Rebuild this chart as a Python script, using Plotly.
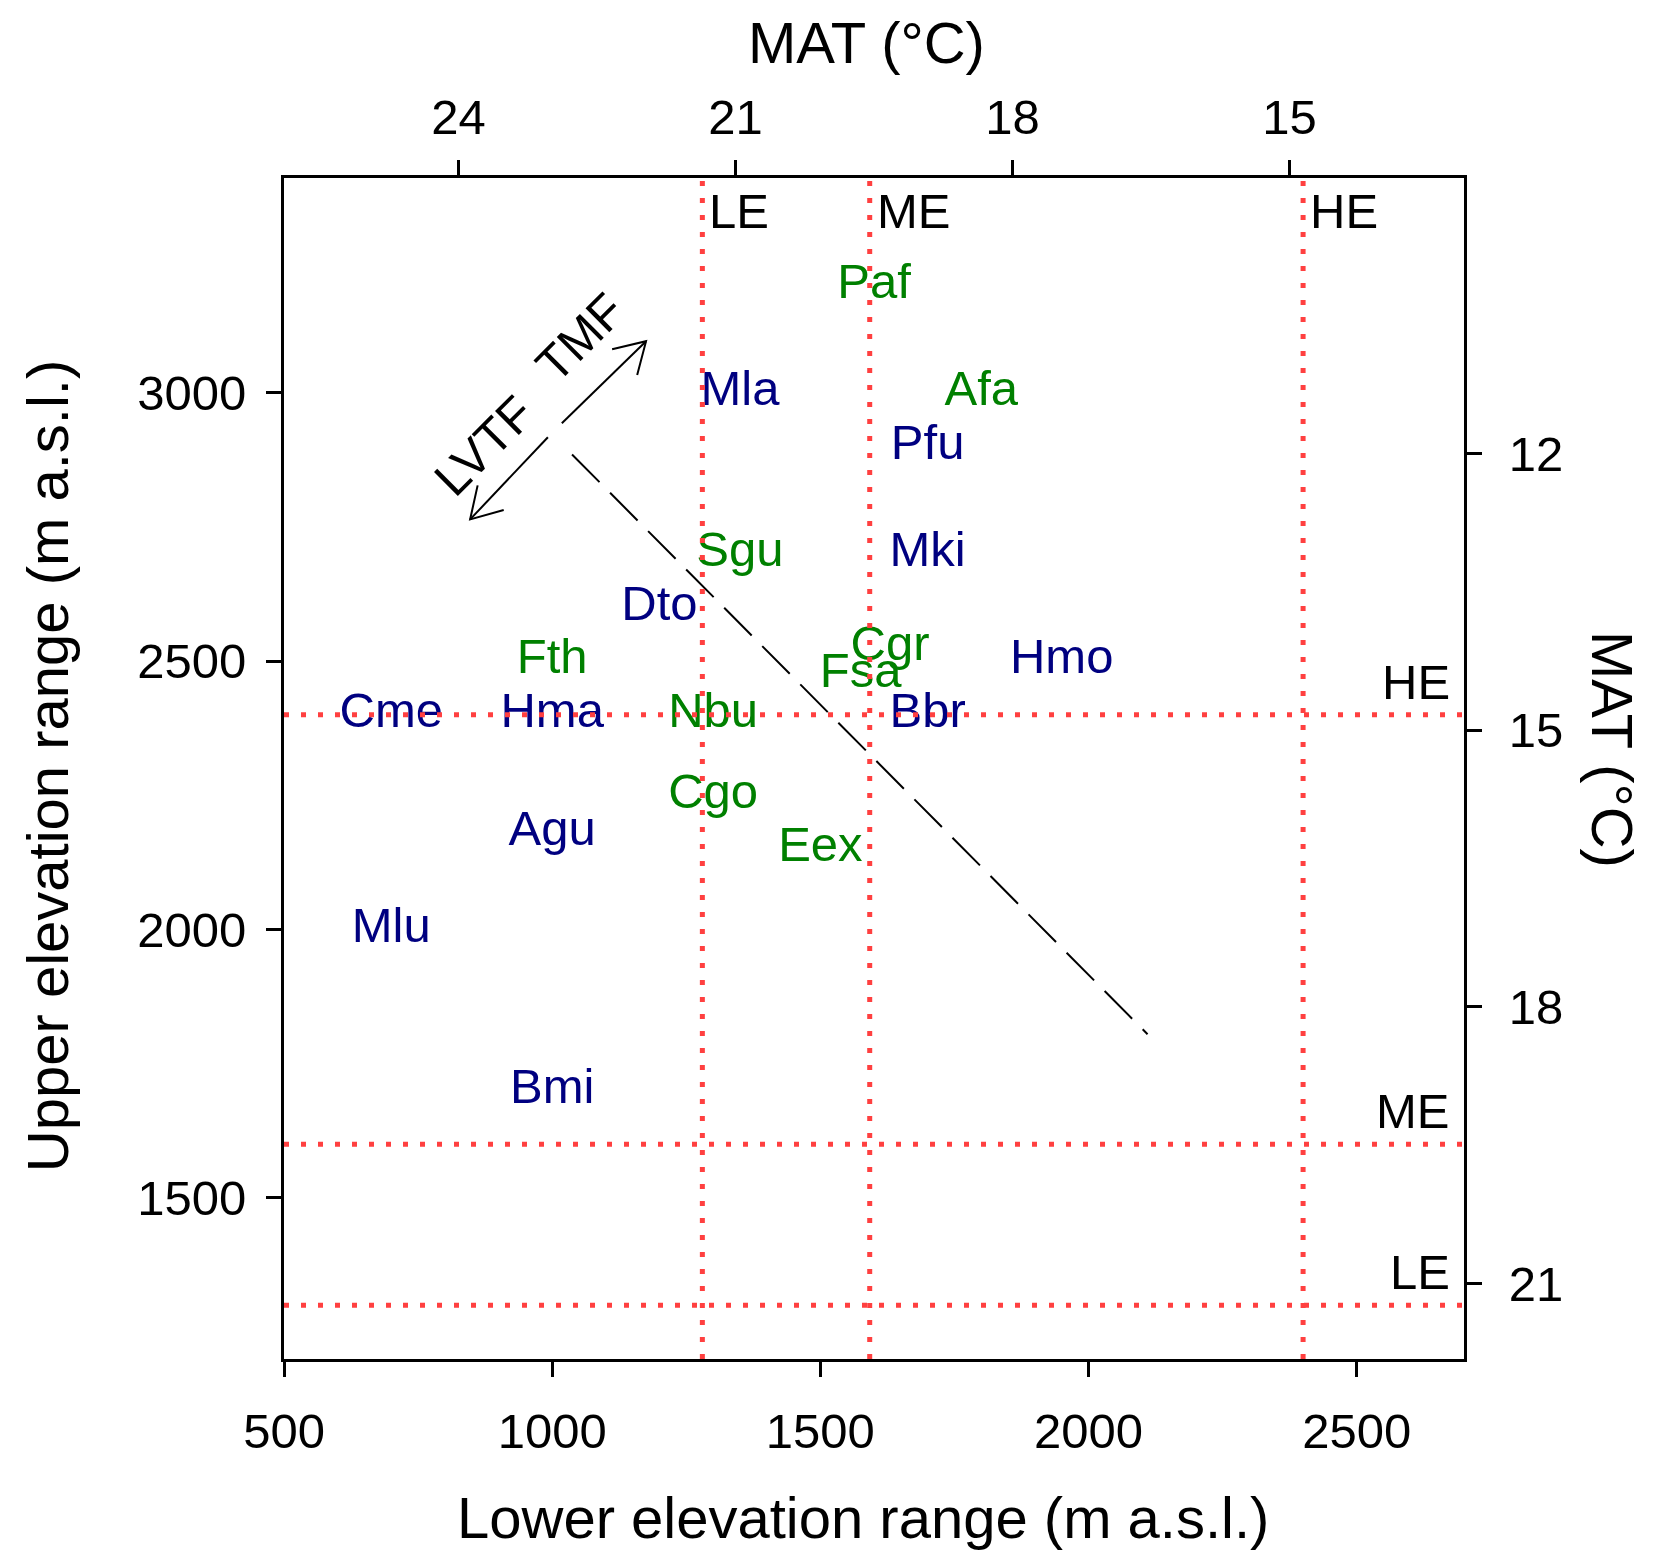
import numpy as np
import plotly.graph_objects as go

# species codes with lower / upper elevation range (m a.s.l.)
green_species = ["Paf", "Afa", "Sgu", "Fth", "Cgr", "Fsa", "Nbu", "Cgo", "Eex"]
green_lower = [1600, 1800, 1350, 1000, 1630, 1575, 1300, 1300, 1500]
green_upper = [3200, 3000, 2700, 2500, 2525, 2475, 2400, 2250, 2150]

navy_species = ["Mla", "Pfu", "Mki", "Dto", "Hmo", "Cme", "Hma", "Bbr", "Agu", "Mlu", "Bmi"]
navy_lower = [1350, 1700, 1700, 1200, 1950, 700, 1000, 1700, 1000, 700, 1000]
navy_upper = [3000, 2900, 2700, 2600, 2500, 2400, 2400, 2400, 2180, 2000, 1700]

# elevation zones (low, mid, high)
zone_names = ["LE", "ME", "HE"]
zone_lower = [1280, 1592, 2400]
zone_upper = [1300, 1600, 2400]

# dashed trend line
trend_lower = [1037, 2110]
trend_upper = [2885, 1805]

# forest-type arrow (start, tip)
arrow_lvtf = [[992, 2917], [847, 2764]]
arrow_tmf = [[1018, 2943], [1175, 3096]]

x_ticks = [500, 1000, 1500, 2000, 2500]
y_ticks = [1500, 2000, 2500, 3000]
mat_top_ticks = [24, 21, 18, 15]
mat_right_ticks = [12, 15, 18, 21]

FONT = "Liberation Sans, Arial, sans-serif"
RED = "#ff4040"
GREEN = "#008000"
NAVY = "#000080"


def arrow_head(start, tip, length=65, angle=31):
    d = np.array(tip, float) - np.array(start, float)
    d /= np.linalg.norm(d)
    pts = []
    for a in (angle, -angle):
        r = np.radians(a)
        rot = np.array([[np.cos(r), -np.sin(r)], [np.sin(r), np.cos(r)]])
        pts.append(np.array(tip, float) - length * rot @ d)
    return "M{},{} L{},{} L{},{}".format(pts[0][0], pts[0][1], tip[0], tip[1], pts[1][0], pts[1][1])


fig = go.Figure()

fig.add_trace(go.Scatter(
    x=trend_lower, y=trend_upper, mode="lines",
    line=dict(color="black", width=2, dash="39px,15px"),
    hoverinfo="skip"))

fig.add_trace(go.Scatter(
    x=green_lower, y=green_upper, text=green_species, mode="text",
    textposition="middle center",
    textfont=dict(family=FONT, size=49, color=GREEN)))

fig.add_trace(go.Scatter(
    x=navy_lower, y=navy_upper, text=navy_species, mode="text",
    textposition="middle center",
    textfont=dict(family=FONT, size=49, color=NAVY)))

# empty trace so the MAT axes get drawn
fig.add_trace(go.Scatter(x=[], y=[], xaxis="x2", yaxis="y2", hoverinfo="skip"))

shapes = []
for xv in zone_lower:
    shapes.append(dict(type="line", xref="x", yref="paper", x0=xv, x1=xv, y0=0, y1=1,
                       line=dict(color=RED, width=5, dash="5px,12px"), layer="above"))
for yv in zone_upper:
    shapes.append(dict(type="line", xref="paper", yref="y", x0=0, x1=1, y0=yv, y1=yv,
                       line=dict(color=RED, width=5, dash="5px,12px"), layer="above"))
for start, tip in (arrow_lvtf, arrow_tmf):
    shapes.append(dict(type="line", xref="x", yref="y", x0=start[0], y0=start[1],
                       x1=tip[0], y1=tip[1], line=dict(color="black", width=2)))
    shapes.append(dict(type="path", xref="x", yref="y", path=arrow_head(start, tip),
                       line=dict(color="black", width=2)))

annotations = []
for name, xv in zip(zone_names, zone_lower):
    annotations.append(dict(x=xv, y=3338, xref="x", yref="y", text=name, showarrow=False,
                            xanchor="left", yanchor="middle", xshift=5,
                            font=dict(family=FONT, size=49, color="black")))
for name, yv in zip(zone_names, zone_upper):
    annotations.append(dict(x=2700, y=yv, xref="x", yref="y", text=name, showarrow=False,
                            xanchor="right", yanchor="middle", xshift=-12, yshift=33,
                            font=dict(family=FONT, size=49, color="black")))
annotations.append(dict(x=872, y=2901, xref="x", yref="y", text="LVTF", showarrow=False,
                        textangle=-45, xanchor="center", yanchor="middle",
                        font=dict(family=FONT, size=49, color="black")))
annotations.append(dict(x=1053, y=3103, xref="x", yref="y", text="TMF", showarrow=False,
                        textangle=-45, xanchor="center", yanchor="middle",
                        font=dict(family=FONT, size=49, color="black")))

# axis titles
title_font = dict(family=FONT, size=58, color="black")
annotations.append(dict(x=0.491, y=-0.1338, xref="paper", yref="paper", showarrow=False,
                        text="Lower elevation range (m a.s.l.)",
                        xanchor="center", yanchor="middle", font=title_font))
annotations.append(dict(x=-0.2003, y=0.5017, xref="paper", yref="paper", showarrow=False,
                        text="Upper elevation range (m a.s.l.)", textangle=-90,
                        xanchor="center", yanchor="middle", font=title_font))
annotations.append(dict(x=0.494, y=1.1147, xref="paper", yref="paper", showarrow=False,
                        text="MAT (°C)", xanchor="center", yanchor="middle", font=title_font))
annotations.append(dict(x=1.1254, y=0.5157, xref="paper", yref="paper", showarrow=False,
                        text="MAT (°C)", textangle=90,
                        xanchor="center", yanchor="middle", font=title_font))

axis_common = dict(showgrid=False, zeroline=False, showline=True, linecolor="black",
                   linewidth=3, ticks="outside", ticklen=15, tickwidth=3, tickcolor="black",
                   tickfont=dict(family=FONT, size=49, color="black"))

# page body adds an 8px offset, so the figure is 8px smaller on each side
fig.update_layout(
    width=1650, height=1558,
    margin=dict(l=276, r=194, t=170, b=207),
    paper_bgcolor="white", plot_bgcolor="white",
    showlegend=False,
    shapes=shapes, annotations=annotations,
    xaxis=dict(range=[500, 2700], tickvals=x_ticks, ticklabelstandoff=12, **axis_common),
    yaxis=dict(range=[1200, 3400], tickvals=y_ticks, ticklabelstandoff=10, **axis_common),
    xaxis2=dict(range=[25.89, 13.11], tickvals=mat_top_ticks, overlaying="x", side="top",
                anchor="y", ticklabelstandoff=6, **axis_common),
    yaxis2=dict(range=[21.82, 9.01], tickvals=mat_right_ticks, overlaying="y", side="right",
                anchor="x", ticklabelstandoff=17, **axis_common),
)

fig.write_html("out.html")
